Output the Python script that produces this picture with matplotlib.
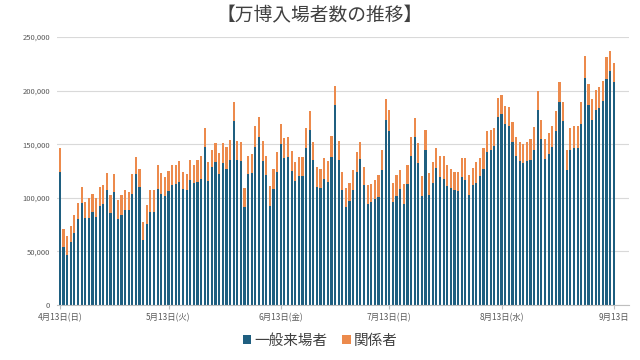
import matplotlib
matplotlib.use("Agg")
import matplotlib.pyplot as plt
from matplotlib.ticker import FuncFormatter

plt.rcParams['font.family'] = ['Noto Sans CJK JP', 'DejaVu Sans']

# daily totals and general visitors, in thousands, 4/13 - 9/13
total = [146, 71, 64, 74, 84, 95, 110, 96, 100, 104, 100, 110, 112, 123, 103, 122,
         98, 103, 107, 105, 122, 138, 127, 77, 93, 107, 107, 131, 123, 119, 125, 131,
         131, 134, 124, 122, 135, 131, 135, 139, 165, 133, 145, 151, 142, 151, 147, 154,
         189, 153, 152, 109, 139, 141, 167, 175, 153, 139, 111, 127, 143, 169, 156, 157,
         144, 133, 138, 138, 165, 181, 152, 129, 127, 137, 134, 158, 204, 153, 124, 109,
         114, 126, 143, 152, 129, 112, 113, 117, 121, 145, 192, 182, 114, 121, 126, 113,
         131, 157, 174, 151, 120, 163, 123, 133, 146, 139, 139, 131, 127, 124, 124, 137,
         137, 121, 128, 133, 137, 146, 162, 163, 165, 193, 196, 186, 185, 171, 157, 152,
         150, 152, 155, 166, 200, 173, 155, 160, 167, 181, 208, 189, 145, 165, 167, 167,
         189, 232, 206, 192, 201, 203, 209, 231, 237, 226]
general = [124, 54, 47, 59, 67, 80, 95, 81, 81, 87, 82, 92, 94, 107, 86, 105,
           80, 84, 89, 89, 104, 122, 110, 61, 76, 87, 87, 108, 104, 102, 106, 112,
           113, 115, 108, 107, 117, 114, 115, 118, 147, 116, 129, 133, 122, 132, 127, 135,
           172, 135, 134, 91, 122, 123, 147, 157, 134, 121, 92, 108, 124, 150, 137, 138,
           125, 116, 120, 120, 146, 163, 135, 110, 109, 118, 115, 138, 187, 135, 107, 91,
           97, 107, 124, 136, 112, 94, 96, 99, 101, 126, 173, 162, 96, 102, 108, 94,
           113, 139, 157, 132, 102, 145, 103, 114, 128, 119, 118, 111, 109, 107, 106, 119,
           117, 103, 112, 114, 120, 127, 143, 145, 148, 175, 178, 169, 167, 152, 139, 134,
           132, 134, 135, 145, 182, 155, 136, 141, 147, 162, 189, 172, 126, 145, 146, 146,
           169, 212, 187, 173, 182, 184, 190, 211, 218, 208]
staff = [t - g for t, g in zip(total, general)]

tick_pos = [0, 30, 61, 91, 122, 153]
tick_labels = ["4月13日(日)", "5月13日(火)", "6月13日(金)", "7月13日(日)", "8月13日(水)", "9月13日"]

blue = "#1f5f80"
orange = "#ec8a4c"

fig = plt.figure(figsize=(6.4, 3.6), dpi=100)
ax = fig.add_axes([57/640, 55/360, 572/640, 268/360])

x = list(range(len(general)))
gen_vals = [v * 1000 for v in general]
staff_vals = [v * 1000 for v in staff]
ax.bar(x, gen_vals, width=0.6, color=blue, label="一般来場者", zorder=2)
ax.bar(x, staff_vals, width=0.6, bottom=gen_vals, color=orange, label="関係者", zorder=2)

ax.set_ylim(0, 250000)
ax.set_yticks(range(0, 250001, 50000))
ax.yaxis.set_major_formatter(FuncFormatter(lambda v, p: f"{int(v):,}"))
ax.set_xlim(-0.8, 157.2)
ax.set_xticks(tick_pos)
ax.set_xticklabels(tick_labels)

ax.grid(axis='y', color='#d9d9d9', linewidth=0.8, zorder=0)
for s in ['top', 'right', 'left']:
    ax.spines[s].set_visible(False)
ax.spines['bottom'].set_color('#bfbfbf')
ax.tick_params(axis='y', length=0, pad=5, labelsize=5.5, labelcolor='#595959')
ax.tick_params(axis='x', length=3, color='#bfbfbf', pad=3, labelsize=6, labelcolor='#595959')

fig.text(0.5, 1 - 16/360, "【万博入場者数の推移】", ha='center', va='center',
         fontsize=13.5, color='#404040')

fig.legend(loc='center', bbox_to_anchor=(0.5, 1 - 341/360), ncol=2, frameon=False,
           fontsize=10.5, handlelength=0.6, handleheight=0.6, handletextpad=0.2,
           columnspacing=1.0, labelcolor='#404040')

fig.savefig("out.png", dpi=100)
